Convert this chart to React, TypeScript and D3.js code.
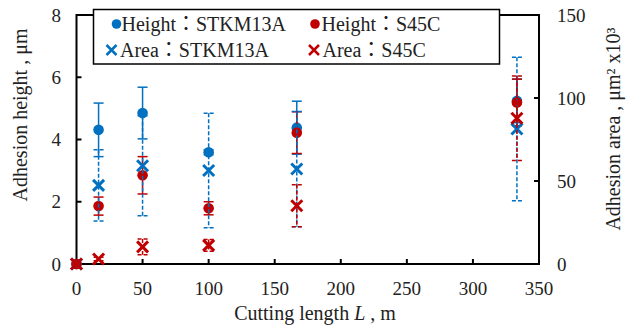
import React from 'react';
import * as d3 from 'd3';

// cutting length L (m)
const lengths = [0, 16.7, 50, 100, 166.7, 333.3];

// adhesion height (um) with error
const heightSTKM = [0, 4.31, 4.85, 3.59, 4.38, 5.24];
const heightSTKMErr = [0, 0.86, 0.83, 0.08, 0.85, 0.7];
const heightS45C = [0, 1.86, 2.85, 1.79, 4.22, 5.19];
const heightS45CErr = [0, 0.29, 0.6, 0.21, 0.67, 0.75];

// adhesion area (um^2 x10^3) with error
const areaSTKM = [0, 47.4, 59.2, 56.3, 57.2, 81.3];
const areaSTKMErr = [0, 21.5, 30.1, 34.5, 34.7, 43.2];
const areaS45C = [0, 3.0, 10.3, 11.2, 35.1, 87.8];
const areaS45CErr = [0, 1.0, 4.8, 3.5, 12.7, 25.5];

const xTicks = [0, 50, 100, 150, 200, 250, 300, 350];
const leftTicks = [0, 2, 4, 6, 8];
const rightTicks = [0, 50, 100, 150];

const BLUE = '#0070C0';
const RED = '#C00000';
const FONT = "'Liberation Serif', 'Times New Roman', 'Noto Sans CJK JP', serif";

const W = 630;
const H = 328;
const left = 76.5;
const right = 539;
const top = 15;
const bottom = 264;

const x = d3.scaleLinear().domain([0, 350]).range([left, right]);
const yL = d3.scaleLinear().domain([0, 8]).range([bottom, top]);
const yR = d3.scaleLinear().domain([0, 150]).range([bottom, top]);

type Series = {
  values: number[];
  errs: number[];
  scale: d3.ScaleLinear<number, number>;
  color: string;
  marker: 'circle' | 'cross';
  dashed: boolean;
};

const series: Series[] = [
  { values: heightSTKM, errs: heightSTKMErr, scale: yL, color: BLUE, marker: 'circle', dashed: false },
  { values: heightS45C, errs: heightS45CErr, scale: yL, color: RED, marker: 'circle', dashed: false },
  { values: areaSTKM, errs: areaSTKMErr, scale: yR, color: BLUE, marker: 'cross', dashed: true },
  { values: areaS45C, errs: areaS45CErr, scale: yR, color: RED, marker: 'cross', dashed: true },
];

function Marker({ kind, cx, cy, color }: { kind: 'circle' | 'cross'; cx: number; cy: number; color: string }) {
  if (kind === 'circle') return <circle cx={cx} cy={cy} r={5.3} fill={color} />;
  const s = 5.5;
  return (
    <path
      d={`M${cx - s},${cy - s}L${cx + s},${cy + s}M${cx - s},${cy + s}L${cx + s},${cy - s}`}
      stroke={color}
      strokeWidth={3}
      fill="none"
    />
  );
}

function ErrorBars({ s }: { s: Series }) {
  const cap = 5;
  return (
    <g stroke={s.color} strokeWidth={1.5} strokeDasharray={s.dashed ? '4,2' : undefined} fill="none">
      {s.values.map((v, i) => {
        const e = s.errs[i];
        if (!e) return null;
        const cx = x(lengths[i]);
        const y1 = s.scale(v + e);
        const y2 = s.scale(v - e);
        return (
          <g key={i}>
            <line x1={cx} x2={cx} y1={y1} y2={y2} />
            <line x1={cx - cap} x2={cx + cap} y1={y1} y2={y1} />
            <line x1={cx - cap} x2={cx + cap} y1={y2} y2={y2} />
          </g>
        );
      })}
    </g>
  );
}

const legendItems = [
  { label: 'Height：STKM13A', color: BLUE, marker: 'circle' as const, mx: 116.5, tx: 121.5, y: 24 },
  { label: 'Height：S45C', color: RED, marker: 'circle' as const, mx: 315, tx: 321.5, y: 24 },
  { label: 'Area：STKM13A', color: BLUE, marker: 'cross' as const, mx: 111.5, tx: 120, y: 50 },
  { label: 'Area：S45C', color: RED, marker: 'cross' as const, mx: 314, tx: 322.5, y: 50 },
];

export default function App() {
  return (
    <svg width={W} height={H} style={{ position: 'absolute', left: 0, top: 0, background: '#fff' }}>
      <rect width={W} height={H} fill="#fff" />

      {/* frame */}
      <rect x={left} y={top} width={right - left} height={bottom - top} fill="none" stroke="#000" strokeWidth={2} />

      {/* ticks */}
      <g stroke="#000" strokeWidth={2}>
        {xTicks.map((t) => (
          <line key={'x' + t} x1={x(t)} x2={x(t)} y1={bottom} y2={bottom - 5} />
        ))}
        {leftTicks.map((t) => (
          <line key={'l' + t} x1={left} x2={left + 5} y1={yL(t)} y2={yL(t)} />
        ))}
        {rightTicks.map((t) => (
          <line key={'r' + t} x1={right} x2={right - 5} y1={yR(t)} y2={yR(t)} />
        ))}
      </g>

      {/* tick labels */}
      <g fontSize={19} fill="#222" fontFamily={FONT}>
        {xTicks.map((t) => (
          <text key={'xl' + t} x={x(t)} y={295} textAnchor="middle" fontFamily={FONT}>
            {t}
          </text>
        ))}
        {leftTicks.map((t) => (
          <text key={'ll' + t} x={61} y={yL(t)} dy="0.35em" textAnchor="end" fontFamily={FONT}>
            {t}
          </text>
        ))}
        {rightTicks.map((t) => (
          <text key={'rl' + t} x={557} y={yR(t)} dy="0.35em" textAnchor="start" fontFamily={FONT}>
            {t}
          </text>
        ))}
      </g>

      {/* axis titles */}
      <g fontSize={20} fill="#222" fontFamily={FONT}>
        <text x={315} y={320} textAnchor="middle" fontFamily={FONT}>
          Cutting length <tspan fontStyle="italic">L</tspan> , m
        </text>
        <text transform="translate(20,115) rotate(-90)" dy="0.35em" textAnchor="middle" fontFamily={FONT}>
          Adhesion height , μm
        </text>
        <text transform="translate(613,129) rotate(-90)" dy="0.35em" textAnchor="middle" fontFamily={FONT}>
          Adhesion area , μm² x10³
        </text>
      </g>

      {/* data */}
      {series.map((s, k) => (
        <g key={k}>
          <ErrorBars s={s} />
          {s.values.map((v, i) => (
            <Marker key={i} kind={s.marker} cx={x(lengths[i])} cy={s.scale(v)} color={s.color} />
          ))}
        </g>
      ))}

      {/* legend */}
      <rect x={93.5} y={9.5} width={406} height={54.5} fill="#fff" stroke="#000" strokeWidth={1.5} />
      {legendItems.map((d) => (
        <g key={d.label}>
          {d.marker === 'circle' ? (
            <circle cx={d.mx} cy={d.y} r={4.8} fill={d.color} />
          ) : (
            <path
              d={`M${d.mx - 5},${d.y - 5}L${d.mx + 5},${d.y + 5}M${d.mx - 5},${d.y + 5}L${d.mx + 5},${d.y - 5}`}
              stroke={d.color}
              strokeWidth={2.5}
            />
          )}
          <text x={d.tx} y={d.y} dy="0.35em" fontSize={20} fill="#222" fontFamily={FONT}>
            {d.label}
          </text>
        </g>
      ))}
    </svg>
  );
}
